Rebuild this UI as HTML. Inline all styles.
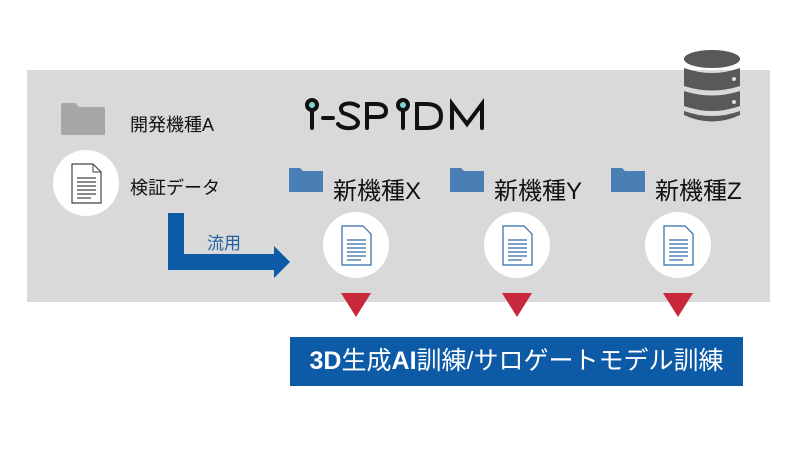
<!DOCTYPE html>
<html><head><meta charset="utf-8"><style>
body{margin:0;width:800px;height:450px;background:#fff;position:relative;overflow:hidden;font-family:"Liberation Sans","Noto Sans CJK JP",sans-serif}
.a{position:absolute}
.panel{left:27px;top:70px;width:743px;height:232px;background:#d9d9d9}
.t{position:absolute;white-space:nowrap;color:#111}
.circ{position:absolute;width:66px;height:66px;border-radius:50%;background:#fff}
.tri{position:absolute;width:0;height:0;border-left:15px solid transparent;border-right:15px solid transparent;border-top:24px solid #c8283c}
</style></head><body>
<div class="a panel"></div>
<!-- database -->
<svg class="a" style="left:680px;top:48px" width="64" height="78" viewBox="0 0 64 78">
<g fill="#595959">
<ellipse cx="32" cy="11" rx="28" ry="9"/>
<path d="M4 20 Q32 30 60 20 V38 Q32 47 4 38Z"/>
<path d="M4 43 Q32 52 60 43 V58 Q32 68 4 58Z"/>
<path d="M4 63 Q32 73 60 63 V67 Q32 80 4 67Z"/>
</g>
<circle cx="54" cy="31" r="2" fill="#ddd"/><circle cx="54" cy="54" r="2" fill="#ddd"/>
</svg>
<!-- gray folder -->
<svg class="a" style="left:60px;top:102px" width="46" height="34"><path d="M1 3 Q1 1 3 1 H15 L19 5 H44 Q45 5 45 7 V32 Q45 33 43 33 H3 Q1 33 1 31Z" fill="#a6a6a6"/></svg>
<div class="t" style="left:130px;top:111px;font-size:18px">開発機種A</div>
<div class="circ" style="left:53px;top:150px"></div>
<svg class="a" style="left:71px;top:163px" width="32" height="42"><path d="M1 1 H22 L30 9 V40 H1Z" fill="#fff" stroke="#444" stroke-width="1.2"/><path d="M22 1 V9 H30" fill="none" stroke="#444"/><g stroke="#444" stroke-width="1.2"><line x1="6" y1="15" x2="25" y2="15"/><line x1="6" y1="19" x2="25" y2="19"/><line x1="6" y1="23" x2="25" y2="23"/><line x1="6" y1="27" x2="25" y2="27"/><line x1="6" y1="31" x2="25" y2="31"/><line x1="6" y1="35" x2="20" y2="35"/></g></svg>
<div class="t" style="left:130px;top:174px;font-size:18px">検証データ</div>
<!-- logo -->
<svg class="a" style="left:300px;top:96px" width="200" height="40">
<g fill="none" stroke="#111" stroke-width="4" stroke-linecap="round">
<line x1="12" y1="12" x2="12" y2="32"/><circle cx="12" cy="9" r="5" fill="#7fd6cf"/>
<line x1="23" y1="22" x2="33" y2="22"/>
<path d="M58 10 Q52 6 45 8 Q38 11 43 17 Q56 21 58 26 Q58 33 46 32 Q40 31 38 28"/>
<path d="M67 32 V8 H78 Q86 9 86 15 Q86 21 78 21 H67"/>
<line x1="103" y1="12" x2="103" y2="32"/><circle cx="103" cy="9" r="5" fill="#7fd6cf"/>
<path d="M117 8 V32 H126 Q141 32 141 20 Q141 8 126 8Z"/>
<path d="M152 32 V8 L167 28 L182 8 V32"/>
</g></svg>
<!-- arrow -->
<svg class="a" style="left:166px;top:210px" width="126" height="72"><path d="M2 3 H18 V44 H108 V36 L124 52 L108 68 V60 H2Z" fill="#0d5aa7"/></svg>
<div class="t" style="left:207px;top:229px;font-size:17px;color:#1f5fa0">流用</div>
<!-- new models -->
<svg class="a" style="left:288px;top:166px" width="36" height="27"><path d="M1 2 H12 L15 5 H35 V26 H1Z" fill="#4a7fb5"/></svg>
<div class="t" style="left:333px;top:171px;font-size:24px">新機種X</div>
<svg class="a" style="left:449px;top:166px" width="36" height="27"><path d="M1 2 H12 L15 5 H35 V26 H1Z" fill="#4a7fb5"/></svg>
<div class="t" style="left:494px;top:171px;font-size:24px">新機種Y</div>
<svg class="a" style="left:610px;top:166px" width="36" height="27"><path d="M1 2 H12 L15 5 H35 V26 H1Z" fill="#4a7fb5"/></svg>
<div class="t" style="left:655px;top:171px;font-size:24px">新機種Z</div>

<div class="circ" style="left:323px;top:212px"></div>
<div class="circ" style="left:484px;top:212px"></div>
<div class="circ" style="left:645px;top:212px"></div>
<svg class="a" style="left:341px;top:225px" width="32" height="42"><path d="M1 1 H22 L30 9 V40 H1Z" fill="#fff" stroke="#2e6aa8" stroke-width="1.2"/><g stroke="#2e6aa8" stroke-width="1.2"><line x1="6" y1="15" x2="25" y2="15"/><line x1="6" y1="19" x2="25" y2="19"/><line x1="6" y1="23" x2="25" y2="23"/><line x1="6" y1="27" x2="25" y2="27"/><line x1="6" y1="31" x2="25" y2="31"/><line x1="6" y1="35" x2="20" y2="35"/></g></svg>
<svg class="a" style="left:502px;top:225px" width="32" height="42"><path d="M1 1 H22 L30 9 V40 H1Z" fill="#fff" stroke="#2e6aa8" stroke-width="1.2"/><g stroke="#2e6aa8" stroke-width="1.2"><line x1="6" y1="15" x2="25" y2="15"/><line x1="6" y1="19" x2="25" y2="19"/><line x1="6" y1="23" x2="25" y2="23"/><line x1="6" y1="27" x2="25" y2="27"/><line x1="6" y1="31" x2="25" y2="31"/><line x1="6" y1="35" x2="20" y2="35"/></g></svg>
<svg class="a" style="left:663px;top:225px" width="32" height="42"><path d="M1 1 H22 L30 9 V40 H1Z" fill="#fff" stroke="#2e6aa8" stroke-width="1.2"/><g stroke="#2e6aa8" stroke-width="1.2"><line x1="6" y1="15" x2="25" y2="15"/><line x1="6" y1="19" x2="25" y2="19"/><line x1="6" y1="23" x2="25" y2="23"/><line x1="6" y1="27" x2="25" y2="27"/><line x1="6" y1="31" x2="25" y2="31"/><line x1="6" y1="35" x2="20" y2="35"/></g></svg>

<div class="tri" style="left:341px;top:293px"></div>
<div class="tri" style="left:502px;top:293px"></div>
<div class="tri" style="left:663px;top:293px"></div>

<div class="a" style="left:290px;top:337px;width:453px;height:49px;background:#0d5aa7;color:#fff;font-size:25px;line-height:49px;text-align:center;white-space:nowrap"><b>3D</b>生成<b>AI</b>訓練/サロゲートモデル訓練</div>
</body></html>
